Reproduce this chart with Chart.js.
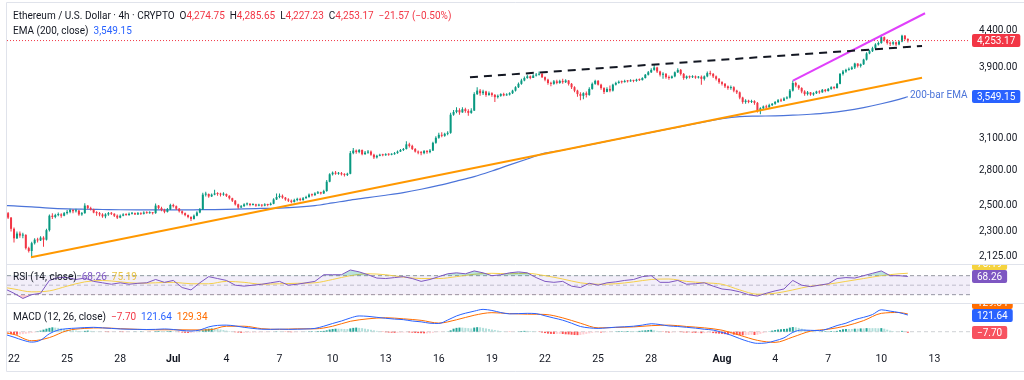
<!DOCTYPE html>
<html><head><meta charset="utf-8"><title>Ethereum / U.S. Dollar 4h</title>
<script src="https://cdn.jsdelivr.net/npm/chart.js@4/dist/chart.umd.min.js"></script>
<style>html,body{margin:0;padding:0;background:#fff;overflow:hidden}canvas{display:block}</style>
</head><body>
<canvas id="chart" width="1024" height="380" style="width:1024px;height:380px"></canvas>
<script>
// ================= DATA =================
// time unit: days since 22 Jun 00:00
const candleStartDay = -1/3;      // first visible candle 21 Jun 16:00
const candleStepDays = 1/6;       // 4h candles
const firstOpen = 2440;
const closes = [
 2405,2320,
 2250,2285,2270,2275,2180,2160,
 2215,2240,2235,2255,2240,2310,
 2420,2410,2425,2430,2420,2440,
 2450,2465,2455,2460,2430,2440,
 2500,2480,2470,2445,2440,2430,
 2415,2430,2440,2435,2420,2405,
 2420,2430,2425,2435,2440,2430,
 2440,2435,2445,2440,2445,2440,
 2500,2480,2465,2450,2470,2505,
 2495,2475,2455,2440,2425,2410,
 2395,2420,2445,2470,2590,2595,
 2575,2590,2600,2595,2590,2595,
 2580,2560,2540,2510,2485,2495,
 2510,2515,2505,2510,2500,2505,
 2500,2510,2505,2515,2550,2570,
 2580,2565,2550,2540,2530,2545,
 2555,2545,2560,2570,2590,2585,
 2600,2610,2600,2620,2700,2765,
 2780,2770,2775,2765,2760,2770,
 2960,2985,2970,2990,2950,2965,
 2975,2945,2920,2935,2945,2940,
 2950,2945,2950,2960,2975,2990,
 3000,3045,3030,3000,2975,2965,
 2960,2980,2970,2985,3060,3110,
 3140,3130,3150,3160,3350,3380,
 3400,3375,3410,3390,3370,3395,
 3580,3620,3590,3610,3570,3590,
 3570,3545,3560,3580,3565,3575,
 3590,3620,3660,3700,3740,3770,
 3790,3770,3800,3810,3820,3780,
 3750,3710,3700,3730,3710,3735,
 3720,3740,3700,3660,3620,3580,
 3560,3590,3570,3640,3700,3735,
 3690,3650,3605,3640,3620,3690,
 3710,3725,3720,3735,3730,3740,
 3735,3750,3745,3770,3810,3840,
 3870,3900,3850,3810,3820,3780,
 3770,3790,3840,3870,3820,3770,
 3790,3780,3790,3775,3785,3760,
 3790,3830,3820,3790,3760,3720,
 3700,3670,3650,3660,3620,3600,
 3540,3490,3505,3490,3500,3480,
 3390,3420,3440,3430,3455,3470,
 3490,3510,3505,3530,3540,3620,
 3710,3680,3650,3610,3580,3600,
 3575,3590,3610,3600,3630,3615,
 3640,3660,3650,3700,3820,3850,
 3870,3880,3900,3950,3920,3940,
 4000,4080,4110,4150,4200,4220,
 4300,4260,4220,4210,4230,4200,
 4240,4320,4274.75,4253.17
];
const highs = [
 2450,2410,
 2330,2300,2300,2290,2280,2190,
 2225,2250,2255,2265,2265,2320,
 2430,2440,2435,2445,2440,2450,
 2465,2475,2470,2475,2465,2450,
 2520,2505,2490,2475,2455,2450,
 2440,2440,2450,2450,2440,2430,
 2430,2440,2440,2445,2450,2445,
 2450,2445,2455,2455,2455,2450,
 2518,2505,2490,2475,2480,2515,
 2515,2500,2480,2460,2445,2430,
 2415,2430,2455,2480,2605,2615,
 2600,2600,2630,2610,2605,2610,
 2600,2585,2565,2545,2515,2505,
 2520,2525,2520,2520,2515,2515,
 2510,2520,2515,2525,2560,2600,
 2600,2590,2570,2560,2550,2555,
 2565,2565,2570,2580,2600,2600,
 2610,2620,2615,2630,2715,2775,
 2790,2795,2785,2785,2775,2780,
 2980,3010,2995,3000,2995,2980,
 2990,2985,2955,2945,2955,2955,
 2960,2960,2960,2970,2985,3000,
 3010,3075,3060,3040,3010,2985,
 2980,2990,2990,3000,3070,3125,
 3160,3165,3160,3175,3370,3400,
 3430,3420,3430,3425,3410,3420,
 3600,3660,3640,3630,3620,3610,
 3600,3580,3575,3590,3595,3590,
 3600,3630,3670,3715,3760,3790,
 3810,3800,3815,3830,3850,3830,
 3790,3760,3725,3745,3750,3750,
 3760,3755,3745,3710,3670,3630,
 3600,3600,3610,3660,3715,3750,
 3745,3700,3660,3660,3680,3700,
 3725,3740,3740,3750,3745,3755,
 3750,3760,3765,3780,3820,3855,
 3890,3940,3910,3860,3840,3830,
 3800,3800,3850,3890,3880,3830,
 3800,3800,3805,3800,3795,3800,
 3800,3850,3860,3830,3800,3770,
 3730,3710,3680,3680,3670,3630,
 3610,3550,3520,3515,3515,3510,
 3490,3430,3450,3460,3470,3480,
 3500,3525,3530,3545,3555,3640,
 3740,3725,3690,3660,3625,3615,
 3605,3600,3620,3625,3640,3640,
 3650,3670,3670,3710,3830,3870,
 3885,3900,3915,3960,3955,3950,
 4010,4095,4130,4170,4215,4240,
 4335,4310,4275,4240,4245,4240,
 4255,4335,4330,4285.65
];
const lows = [
 2395,2300,
 2220,2245,2255,2250,2170,2150,
 2115,2205,2220,2230,2190,2235,
 2300,2395,2400,2415,2405,2415,
 2430,2440,2440,2445,2420,2420,
 2435,2470,2460,2440,2420,2415,
 2405,2400,2420,2425,2410,2395,
 2400,2415,2420,2420,2430,2425,
 2425,2425,2430,2435,2435,2430,
 2435,2470,2455,2440,2445,2465,
 2485,2465,2445,2430,2415,2400,
 2380,2390,2415,2440,2465,2575,
 2565,2570,2585,2580,2575,2580,
 2570,2550,2530,2500,2475,2480,
 2490,2500,2495,2500,2490,2495,
 2490,2495,2495,2500,2510,2545,
 2560,2555,2540,2530,2520,2525,
 2535,2535,2540,2555,2565,2575,
 2580,2595,2590,2595,2615,2695,
 2755,2760,2760,2755,2745,2750,
 2765,2950,2955,2960,2940,2945,
 2955,2935,2905,2910,2930,2930,
 2935,2935,2940,2945,2955,2970,
 2980,2995,3015,2990,2965,2950,
 2940,2950,2955,2960,2980,3050,
 3100,3115,3120,3135,3150,3340,
 3365,3350,3370,3370,3340,3360,
 3390,3570,3560,3570,3550,3560,
 3550,3490,3530,3550,3555,3560,
 3565,3580,3610,3650,3690,3730,
 3760,3755,3770,3790,3800,3770,
 3730,3690,3670,3690,3695,3700,
 3700,3710,3680,3640,3600,3550,
 3510,3520,3540,3560,3630,3690,
 3680,3630,3580,3600,3600,3610,
 3680,3700,3705,3715,3715,3725,
 3720,3725,3735,3740,3765,3800,
 3830,3860,3830,3790,3760,3760,
 3750,3760,3780,3830,3800,3750,
 3755,3765,3770,3760,3765,3690,
 3740,3780,3800,3770,3740,3700,
 3680,3650,3630,3630,3600,3580,
 3520,3470,3470,3475,3480,3460,
 3375,3355,3400,3415,3425,3445,
 3460,3480,3490,3500,3520,3530,
 3610,3660,3630,3590,3560,3565,
 3560,3560,3580,3585,3595,3600,
 3610,3630,3635,3645,3695,3800,
 3835,3860,3870,3880,3900,3900,
 3930,3990,4070,4100,4140,4185,
 4210,4240,4200,4180,4190,4180,
 4190,4230,4260,4227.23
];
const macdHist = [
 -15,-18,
 -20,-22,-20,-18,-15,-12,
 -8,-5,2,8,15,22,
 28,32,30,28,25,20,
 16,12,10,8,5,4,
 6,8,6,4,2,1,
 0,-2,-3,-2,-1,0,
 -2,-3,-2,-1,0,1,
 1,2,1,0,-1,0,
 3,5,4,3,4,5,
 3,0,-3,-6,-8,-9,
 -8,-6,-3,2,10,18,
 22,24,22,20,16,12,
 8,4,0,-4,-6,-8,
 -8,-7,-6,-6,-5,-5,
 -4,-4,-3,-2,0,2,
 2,0,-2,-3,-4,-4,
 -3,-2,0,1,2,3,
 3,4,5,6,10,16,
 20,22,22,21,20,19,
 24,28,30,28,26,22,
 18,14,10,6,2,-2,
 -4,-6,-7,-8,-8,-7,
 -6,-4,-5,-7,-9,-10,
 -11,-12,-12,-11,-8,-4,
 -3,-2,0,2,10,22,
 28,30,30,28,26,24,
 30,33,32,28,24,20,
 16,12,8,5,2,0,
 -2,-1,0,2,4,6,
 6,5,4,2,-2,-6,
 -10,-14,-16,-17,-16,-16,
 -17,-19,-20,-22,-24,-25,
 -24,-20,-16,-12,-8,-4,
 -4,-6,-6,-4,-2,0,
 2,3,4,4,5,5,
 5,5,6,8,10,12,
 14,10,6,2,-2,-4,
 -6,-6,-4,-2,-3,-5,
 -6,-6,-7,-8,-8,-11,
 -10,-8,-8,-10,-12,-14,
 -16,-18,-20,-20,-22,-23,
 -24,-26,-26,-24,-22,-24,
 -22,-16,-10,-4,2,8,
 12,16,18,20,22,30,
 34,32,28,22,16,10,
 6,4,2,2,3,4,
 4,5,5,6,12,18,
 20,20,20,22,22,24,
 24,26,26,26,26,25,
 26,22,15,8,4,2,
 0,6,2,-7.70
];

// daily samples: day -0.5, 0..50, 50.5
const dailyDays = [-0.5, ...Array.from({length: 51}, (_, i) => i), 50.5];
const emaValues = [
 2500,2498,2490,2480,2474,2471,2469,2467,2466,2466,2466,2466,2468,2470,2474,2477,2480,
 2487,2500,2522,2545,2565,2585,2607,2635,2668,2705,2745,2795,2850,2905,2960,2988,
 3022,3057,3093,3129,3164,3200,3237,3274,3308,3330,3335,3338,3345,3355,3370,3394,
 3428,3470,3520,3549.15
];
const rsiMaValues = [
 45,42,36,38,48,57,60,57,54,55,56,53,53,58,56,52,53,54,55,62,70,74,72,67,64,64,68,
 73,75,74,75,70,63,55,52,53,57,62,63,58,55,52,40,31,33,40,48,52,58,64,70,74,75.19
];
const signalValues = [
 -8,-20,-66,-43,8,24,28,22,17,14,14,13,13,40,40,22,17,21,21,40,76,94,102,94,83,63,
 87,120,139,132,128,126,101,62,28,31,35,44,48,38,28,11,-26,-63,-78,-39,4,18,42,81,
 134,140,129.34
];

// half-day samples: day -0.5 .. 50.5 step 0.5
const halfDayStart = -0.5, halfDayStep = 0.5;
const rsiValues = [
 42,33,22,30,33,60,66,66,62,65,
 58,55,52,55,52,54,55,62,56,60,
 45,40,55,68,64,60,50,48,50,52,
 55,58,50,52,55,58,72,72,72,82,
 78,72,65,64,66,68,64,58,62,68,
 74,76,74,80,76,70,72,76,78,76,
 66,58,56,58,48,45,54,50,55,57,
 60,62,68,70,56,56,60,52,53,55,
 48,42,40,36,30,27,33,38,42,60,
 50,47,50,53,64,66,65,70,75,80,
 70,70,68.26
];
const macdValues = [
 -20,-40,-62,-76,-62,-15,12,22,26,30,
 32,28,24,20,18,17,16,17,20,16,
 9,5,12,35,46,48,42,32,24,18,
 17,19,17,18,20,24,40,60,78,100,
 115,112,105,98,92,88,78,72,62,60,
 85,115,135,150,163,155,140,130,132,134,
 132,116,100,84,62,38,28,24,28,33,
 36,40,48,58,52,42,38,32,26,18,
 12,-5,-25,-50,-72,-85,-82,-66,-45,-5,
 12,10,8,22,45,62,88,105,125,160,
 150,140,121.64
];

// drawn trend lines (day, price)
const supportDays = [0.96, 51.3],   supportPrices = [2117, 3773];
const resistDays  = [25.76, 51.3],  resistPrices  = [3779, 4180];
const channelDays = [44.01, 51.47], channelPrices = [3738, 4644];

// axes / labels
const yTicks = [2125, 2300, 2500, 2800, 3100, 3900, 4400];
const xTickDays   = [0, 3, 6, 9, 12, 15, 18, 21, 24, 27, 30, 33, 36, 40, 43, 46, 49, 52];
const xTickLabels = ['22','25','28','Jul','4','7','10','13','16','19','22','25','28','Aug','4','7','10','13'];
const rsiLevels = [70, 50, 30];
const legendTitle = 'Ethereum / U.S. Dollar · 4h · CRYPTO';
const legendOHLC = ['4,274.75', '4,285.65', '4,227.23', '4,253.17'];
const legendChange = '−21.57 (−0.50%)';
const lastPrice = 4253.17, emaLast = 3549.15;
const rsiLast = 68.26, rsiMaLast = 75.19;
const macdLast = 121.64, signalLast = 129.34, histLast = -7.70;

// ================= CHART =================
const FONT = 'Roboto, "Noto Sans", "Liberation Sans", sans-serif';
const C_UP = '#089981', C_DN = '#F23645', C_TXT = '#131722';
const xMin = -0.3955, xMax = 54.01;

const candleDays = closes.map((_, i) => candleStartDay + i * candleStepDays);
const opens = closes.map((c, i) => i === 0 ? firstOpen : closes[i - 1]);
const candleCol = closes.map((c, i) => c >= opens[i] ? C_UP : C_DN);
const histCol = macdHist.map((h, i) => {
  const p = i === 0 ? h : macdHist[i - 1];
  return h >= 0 ? (h > p ? '#26A69A' : '#B2DFDB') : (h < p ? '#FF5252' : '#FFCDD2');
});
const pts = (xs, ys) => ys.map((v, i) => ({x: xs[i], y: v}));
const halfDays = rsiValues.map((_, i) => halfDayStart + i * halfDayStep);
const flat = v => [{x: xMin, y: v}, {x: xMax, y: v}];

const line = (o) => Object.assign({type: 'line', pointRadius: 0, borderWidth: 1, fill: false, spanGaps: true}, o);

const datasets = [
  // trend lines
  line({data: pts(supportDays, supportPrices), borderColor: '#FF9800', borderWidth: 2, yAxisID: 'y', order: 1}),
  line({data: pts(resistDays, resistPrices), borderColor: '#131722', borderWidth: 2, borderDash: [8, 6], yAxisID: 'y', order: 1}),
  line({data: pts(channelDays, channelPrices), borderColor: '#E040FB', borderWidth: 2, yAxisID: 'y', order: 1}),
  // last price line
  line({data: flat(lastPrice), borderColor: C_DN, borderDash: [1, 2], yAxisID: 'y', order: 2}),
  // candles
  {type: 'bar', data: candleDays.map((d, i) => ({x: d, y: [opens[i], closes[i]]})), backgroundColor: candleCol,
   grouped: false, maxBarThickness: 2, minBarLength: 1, inflateAmount: 0, borderWidth: 0, yAxisID: 'y', order: 3},
  {type: 'bar', data: candleDays.map((d, i) => ({x: d, y: [lows[i], highs[i]]})), backgroundColor: candleCol,
   grouped: false, maxBarThickness: 1, inflateAmount: 0, borderWidth: 0, yAxisID: 'y', order: 4},
  // EMA 200
  line({data: pts(dailyDays, emaValues), borderColor: '#4C74D9', borderWidth: 1.2, cubicInterpolationMode: 'monotone', yAxisID: 'y', order: 5}),
  // RSI
  line({data: pts(halfDays, rsiValues), borderColor: '#7E57C2', yAxisID: 'yRSI', order: 6,
        fill: {target: {value: 70}, above: 'rgba(8,153,129,0.28)', below: 'rgba(0,0,0,0)'}}),
  line({data: pts(dailyDays, rsiMaValues), borderColor: '#F5CF4A', cubicInterpolationMode: 'monotone', yAxisID: 'yRSI', order: 7}),
  line({data: pts(halfDays, rsiValues), borderWidth: 0, borderColor: 'rgba(0,0,0,0)', yAxisID: 'yRSI', order: 8,
        fill: {target: {value: 30}, above: 'rgba(0,0,0,0)', below: 'rgba(242,54,69,0.25)'}}),
  line({data: flat(rsiLevels[0]), borderColor: '#9598A1', borderDash: [4, 3], yAxisID: 'yRSI', order: 9,
        fill: {target: {value: rsiLevels[2]}, above: 'rgba(126,87,194,0.10)', below: 'rgba(0,0,0,0)'}}),
  line({data: flat(rsiLevels[1]), borderColor: 'rgba(149,152,161,0.55)', borderDash: [4, 3], yAxisID: 'yRSI', order: 9}),
  line({data: flat(rsiLevels[2]), borderColor: '#9598A1', borderDash: [4, 3], yAxisID: 'yRSI', order: 9}),
  // MACD
  line({data: pts(halfDays, macdValues), borderColor: '#2962FF', cubicInterpolationMode: 'monotone', yAxisID: 'yMACD', order: 6}),
  line({data: pts(dailyDays, signalValues), borderColor: '#FF6D00', cubicInterpolationMode: 'monotone', yAxisID: 'yMACD', order: 7}),
  {type: 'bar', data: candleDays.map((d, i) => ({x: d, y: macdHist[i]})), backgroundColor: histCol,
   grouped: false, maxBarThickness: 2, inflateAmount: 0, borderWidth: 0, yAxisID: 'yMACD', order: 8},
  line({data: flat(0), borderColor: 'rgba(149,152,161,0.45)', borderDash: [4, 3], yAxisID: 'yMACD', order: 9}),
];

const fixW = s => { s.width = 54; s.paddingTop = 0; s.paddingBottom = 0; };
const paneY = (extra) => Object.assign({
  type: 'linear', position: 'right', stack: 'panes', bounds: 'data', offset: false,
  grid: {display: false, drawTicks: false}, border: {display: false},
  ticks: {display: false}, afterFit: fixW
}, extra);

function runs(ctx, x, y, parts) {
  for (const [t, c] of parts) { ctx.fillStyle = c; ctx.fillText(t, x, y); x += ctx.measureText(t).width; }
}
function tag(ctx, y, text, color, clip) {
  ctx.save();
  if (clip) { ctx.beginPath(); ctx.rect(clip[0], clip[1], clip[2], clip[3]); ctx.clip(); }
  const w = ctx.measureText(text).width + 10, h = 13, x0 = 972;
  ctx.fillStyle = color;
  ctx.beginPath(); ctx.roundRect(x0, Math.round(y - h / 2), w, h, 2); ctx.fill();
  ctx.fillStyle = '#fff'; ctx.textBaseline = 'middle';
  ctx.fillText(text, x0 + 5, Math.round(y - h / 2) + h / 2 + 0.5);
  ctx.restore();
}
const fmt = v => v.toLocaleString('en-US', {minimumFractionDigits: 2, maximumFractionDigits: 2});

const overlay = {
  id: 'overlay',
  afterDraw(chart) {
    const {ctx, scales} = chart;
    const yM = scales.y, yR = scales.yRSI, yC = scales.yMACD;
    ctx.save();
    // frame & separators
    ctx.strokeStyle = '#E0E3EB'; ctx.lineWidth = 1;
    ctx.beginPath();
    ctx.moveTo(6.5, 2.5); ctx.lineTo(1024, 2.5);
    ctx.moveTo(6.5, 2.5); ctx.lineTo(6.5, 371.5);
    ctx.moveTo(6.5, 371.5); ctx.lineTo(1024, 371.5);
    ctx.moveTo(7, Math.round(yR.top) + 0.5); ctx.lineTo(1024, Math.round(yR.top) + 0.5);
    ctx.moveTo(7, Math.round(yC.top) + 0.5); ctx.lineTo(1024, Math.round(yC.top) + 0.5);
    ctx.stroke();

    ctx.font = '10px ' + FONT; ctx.textBaseline = 'middle';
    // legend
    runs(ctx, 13, 16, [[legendTitle, C_TXT], ['  O', C_TXT], [legendOHLC[0], C_DN], ['  H', C_TXT], [legendOHLC[1], C_DN],
      ['  L', C_TXT], [legendOHLC[2], C_DN], ['  C', C_TXT], [legendOHLC[3], C_DN], ['  ' + legendChange, C_DN]]);
    runs(ctx, 13, 31, [['EMA (200, close)  ', C_TXT], [fmt(emaLast), '#2962FF']]);
    runs(ctx, 13, 277, [['RSI (14, close)  ', C_TXT], [rsiLast.toFixed(2), '#7E57C2'], ['  ', C_TXT], [rsiMaLast.toFixed(2), '#E8C240']]);
    runs(ctx, 13, 317, [['MACD (12, 26, close)  ', C_TXT], ['−' + Math.abs(histLast).toFixed(2), C_DN], ['  ', C_TXT],
      [macdLast.toFixed(2), '#2962FF'], ['  ', C_TXT], [signalLast.toFixed(2), '#FF6D00']]);

    // EMA annotation
    ctx.fillStyle = '#4C74D9';
    ctx.fillText('200-bar EMA', 910, yM.getPixelForValue(emaLast) - 1);

    // right-axis value tags
    const yPrice = yM.getPixelForValue(lastPrice);
    tag(ctx, yPrice, fmt(lastPrice), C_DN);
    tag(ctx, yM.getPixelForValue(emaLast), fmt(emaLast), '#2962FF');
    const rClip = [970, yR.top + 1, 54, yR.bottom - yR.top - 1];
    const yRsi = yR.getPixelForValue(rsiLast);
    tag(ctx, yRsi - 13, rsiMaLast.toFixed(2), '#F5D33F', rClip);
    tag(ctx, yRsi, rsiLast.toFixed(2), '#7E57C2', rClip);
    const cClip = [970, yC.top + 1, 54, yC.bottom - yC.top - 1];
    const yMacd = yC.getPixelForValue(macdLast);
    tag(ctx, yMacd - 13, signalLast.toFixed(2), '#FF6D00', cClip);
    tag(ctx, yMacd, macdLast.toFixed(2), '#2962FF', cClip);
    tag(ctx, yC.getPixelForValue(histLast), '−' + Math.abs(histLast).toFixed(2), '#F7525F', cClip);
    ctx.restore();
  }
};

Chart.defaults.font.family = FONT;
new Chart(document.getElementById('chart'), {
  type: 'bar',
  data: {datasets},
  plugins: [overlay],
  options: {
    responsive: false, animation: false, devicePixelRatio: 1, events: [],
    layout: {padding: {left: 7, top: 3, right: 0, bottom: 11}},
    plugins: {legend: {display: false}, tooltip: {enabled: false}},
    scales: {
      x: {
        type: 'linear', min: xMin, max: xMax, bounds: 'data', offset: false,
        grid: {display: false, drawTicks: false}, border: {display: false},
        afterBuildTicks: s => { s.ticks = xTickDays.map(v => ({value: v})); },
        afterFit: s => { s.height = 22; s.paddingLeft = 0; s.paddingRight = 0; },
        ticks: {autoSkip: false, maxRotation: 0, padding: 6, color: C_TXT,
          font: ctx => ({size: 10.5, weight: /^[A-Z]/.test(xTickLabels[ctx.index] || '') ? 'bold' : 'normal'}),
          callback: (v, i) => xTickLabels[i]}
      },
      y: {
        type: 'logarithmic', position: 'right', stack: 'panes', stackWeight: 261, min: 2071.5, max: 4800, bounds: 'data',
        grid: {display: false, drawTicks: false}, border: {display: false},
        afterBuildTicks: s => { s.ticks = yTicks.map(v => ({value: v})); },
        afterFit: fixW,
        ticks: {autoSkip: false, padding: 9, color: C_TXT, font: {size: 10}, callback: v => fmt(v)}
      },
      yRSI: paneY({stackWeight: 39, min: 12.5, max: 94.6}),
      yMACD: paneY({stackWeight: 44, min: -111.7, max: 209.5})
    }
  }
});
</script>
</body></html>
